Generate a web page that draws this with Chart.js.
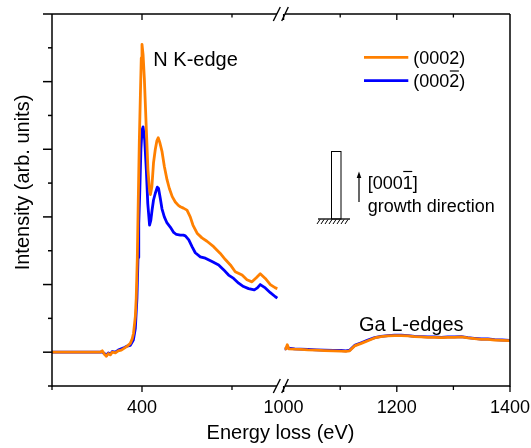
<!DOCTYPE html>
<html><head><meta charset="utf-8">
<script src="https://cdn.jsdelivr.net/npm/chart.js@4.4.0/dist/chart.umd.min.js"></script>
<style>html,body{margin:0;padding:0;background:#fff}#wrap{width:531px;height:448px;position:relative}</style>
</head><body><div id="wrap"><canvas id="c" width="531" height="448"></canvas></div>
<script>
// ---- data (energy in eV, intensity in arb. units) ----
const energyLeft = [350, 376.8, 377.9, 379.1, 380.2, 381.3, 382.4, 383.5, 385.2, 386.8, 388.5, 390.2, 391.8, 393.5, 394.6, 395.3, 396.3, 396.8, 397.4, 397.9, 398.5, 399.1, 399.6, 400.0, 400.6, 401.3, 402.4, 403.3, 404.1, 404.7, 405.5, 406.4, 407.4, 408.3, 409.0, 409.9, 411.1, 412.4, 413.9, 415.2, 416.8, 418.5, 420.2, 421.3, 423, 425, 426.8, 428.3, 430.6, 433.3, 436.1, 439.8, 443.5, 446.3, 449.1, 451.8, 455.6, 458.3, 461.1, 463.5, 465.7, 468.5, 471.3, 474.1, 475.2];
const orange0002Left = [0, 0, 0.02, -0.03, -0.06, -0.02, -0.04, 0.0, -0.01, 0.02, 0.03, 0.06, 0.09, 0.13, 0.2, 0.28, 0.53, 0.8, 1.4, 2.2, 3.1, 3.8, 4.35, 4.55, 4.4, 4.05, 3.3, 2.7, 2.42, 2.33, 2.45, 2.8, 3.0, 3.13, 3.17, 3.1, 2.97, 2.75, 2.55, 2.42, 2.3, 2.22, 2.17, 2.15, 2.13, 2.1, 2.0, 1.88, 1.76, 1.69, 1.64, 1.56, 1.46, 1.37, 1.29, 1.19, 1.14, 1.07, 1.04, 1.1, 1.16, 1.09, 1.0, 0.95, 0.94];
const energyLeftBlue = [350, 376.8, 377.9, 379.1, 380.2, 381.3, 382.4, 383.5, 385.2, 386.8, 388.5, 390.2, 391.8, 393.5, 395.2, 396.3, 397.2, 397.8, 398.2, 398.8, 399.4, 400.0, 400.6, 401.5, 402.4, 403.2, 404.2, 404.9, 405.6, 406.4, 407.4, 408.5, 409.2, 410.2, 411.1, 412.4, 413.9, 415.7, 417.6, 419.1, 421.3, 423, 424.1, 426, 427.8, 429.6, 432.4, 435.2, 438.9, 442.6, 445.3, 448.1, 450.9, 453.7, 456.4, 459.2, 462.4, 464.1, 465.7, 468.5, 471.3, 474.1, 475.2];
const blue0002barLeft = [0, 0, 0.0, -0.02, -0.05, -0.01, -0.03, 0.01, 0.0, 0.03, 0.05, 0.07, 0.09, 0.1, 0.18, 0.35, 0.8, 1.4, 1.9, 2.4, 3.0, 3.28, 3.33, 3.14, 2.70, 2.2, 1.88, 1.95, 2.1, 2.25, 2.35, 2.44, 2.42, 2.27, 2.12, 2.0, 1.91, 1.85, 1.77, 1.74, 1.73, 1.73, 1.72, 1.66, 1.56, 1.47, 1.41, 1.39, 1.34, 1.29, 1.22, 1.14, 1.09, 1.02, 0.97, 0.94, 0.92, 0.95, 1.0, 0.95, 0.88, 0.82, 0.8];
const energyRight = [1001.8, 1004, 1006.5, 1009, 1019.4, 1030, 1042.9, 1058, 1072.4, 1088, 1101.9, 1110, 1116.6, 1125.4, 1137.3, 1148.9, 1160.8, 1172, 1184.3, 1196, 1208, 1220, 1231.4, 1243, 1255, 1267, 1278.6, 1290, 1302.1, 1314, 1325.6, 1337, 1349.3, 1361, 1372.8, 1386, 1399.3];
const orange0002Right = [0.044, 0.05, 0.11, 0.05, 0.044, 0.04, 0.034, 0.03, 0.024, 0.02, 0.015, 0.012, 0.02, 0.093, 0.13, 0.17, 0.21, 0.23, 0.24, 0.245, 0.245, 0.24, 0.23, 0.225, 0.22, 0.22, 0.215, 0.22, 0.22, 0.225, 0.21, 0.2, 0.19, 0.19, 0.18, 0.175, 0.17];
const blue0002barRight = [0.05, 0.05, 0.08, 0.06, 0.05, 0.045, 0.04, 0.035, 0.03, 0.025, 0.025, 0.02, 0.03, 0.1, 0.14, 0.18, 0.215, 0.235, 0.245, 0.25, 0.25, 0.245, 0.235, 0.23, 0.225, 0.225, 0.22, 0.225, 0.225, 0.23, 0.215, 0.205, 0.195, 0.195, 0.185, 0.18, 0.175];

const seriesNames = ['(0002)', '(0002)'];     // second one gets an overbar on the last digit
const xMajorLeft = [400];
const xMinorLeft = [350, 450];
const xMajorRight = [1000, 1200, 1400];
const xMinorRight = [1100, 1300];
const xTickLabels = ['400', '1000', '1200', '1400'];
const yMajor = [0, 1, 2, 3, 4, 5];
const yMinor = [-0.5, 0.5, 1.5, 2.5, 3.5, 4.5];

const ORANGE = '#ff8000';
const BLUE = '#0000ff';
const FONT = '"Liberation Sans", Arial, sans-serif';

function pts(xs, ys) { return xs.map((x, i) => ({x: x, y: ys[i]})); }

const deco = {
  id: 'deco',
  afterDraw(chart) {
    const ctx = chart.ctx;
    const xL = chart.scales.xL, xR = chart.scales.xR, ys = chart.scales.y;
    const a = chart.chartArea;
    const L = a.left, R = a.right, T = a.top, B = a.bottom;
    const brk = xL.right;
    function line(x1, y1, x2, y2) { ctx.beginPath(); ctx.moveTo(x1, y1); ctx.lineTo(x2, y2); ctx.stroke(); }
    ctx.save();
    ctx.strokeStyle = '#000';
    ctx.lineWidth = 1.5;
    // frame
    line(L, T, L, B + 0.7);
    line(R, T, R, B + 0.7);
    line(L, T, brk - 3, T); line(brk + 5, T, R, T);
    line(L, B, brk - 3, B); line(brk + 5, B, R, B);
    // y ticks (outward)
    yMajor.forEach(v => { const p = ys.getPixelForValue(v); line(L - 9, p, L, p); });
    yMinor.forEach(v => { const p = ys.getPixelForValue(v); line(L - 4, p, L, p); });
    // x ticks
    ctx.lineWidth = 1.3;
    const majors = xMajorLeft.map(v => xL.getPixelForValue(v)).concat(xMajorRight.map(v => xR.getPixelForValue(v)));
    const minors = xMinorLeft.map(v => xL.getPixelForValue(v)).concat(xMinorRight.map(v => xR.getPixelForValue(v)));
    majors.forEach(p => { line(p, B, p, B + 6); if (p < R - 1) line(p, T, p, T + 6); });
    minors.forEach(p => { line(p, B, p, B + 4); if (p > L + 1) line(p, T, p, T + 3.5); });
    // axis breaks
    ctx.lineWidth = 1.4;
    [T, B].forEach(yy => {
      line(brk - 6.7, yy + 7, brk + 0.3, yy - 7);
      line(brk + 1.7, yy + 7, brk + 8.3, yy - 7);
    });
    // tick labels
    ctx.fillStyle = '#000';
    ctx.font = '18px ' + FONT;
    ctx.textAlign = 'center';
    ctx.textBaseline = 'alphabetic';
    const labPos = [xL.getPixelForValue(400), xR.getPixelForValue(1000), xR.getPixelForValue(1200), xR.getPixelForValue(1400)];
    xTickLabels.forEach((t, i) => ctx.fillText(t, labPos[i], 413.3));
    // axis titles
    ctx.font = '20px ' + FONT;
    ctx.fillText('Energy loss (eV)', 280.5, 438.5);
    ctx.save();
    ctx.translate(23.5, 182.5);
    ctx.rotate(-Math.PI / 2);
    ctx.textBaseline = 'middle';
    ctx.fillText('Intensity (arb. units)', 0, 0);
    ctx.restore();
    // annotations
    ctx.textAlign = 'left';
    ctx.fillText('N K-edge', 153.3, 65.7);
    ctx.fillText('Ga L-edges', 359, 330.7);
    // legend
    ctx.lineWidth = 2.8;
    ctx.strokeStyle = ORANGE; line(364, 57.3, 408.3, 57.3);
    ctx.strokeStyle = BLUE; line(364, 80.7, 408.3, 80.7);
    ctx.font = '18px ' + FONT;
    ctx.fillText(seriesNames[0], 413.3, 63.5);
    ctx.fillText(seriesNames[1], 413.3, 87);
    ctx.strokeStyle = '#000';
    ctx.lineWidth = 1.2;
    {
      const w0 = ctx.measureText('(000').width, w1 = ctx.measureText('2').width;
      line(413.3 + w0 + 0.5, 71, 413.3 + w0 + w1 - 0.5, 71);
    }
    // growth diagram
    ctx.lineWidth = 1;
    ctx.strokeRect(331.5, 151.5, 9.5, 67.5);
    ctx.lineWidth = 1.3;
    line(318, 219, 350, 219);
    ctx.lineWidth = 1;
    for (let hx = 320; hx <= 350; hx += 4) line(hx - 3, 224, hx, 219.5);
    // arrow
    ctx.lineWidth = 1.2;
    line(359, 202, 359, 177);
    ctx.beginPath(); ctx.moveTo(359, 171.5); ctx.lineTo(356.7, 178); ctx.lineTo(361.3, 178); ctx.closePath(); ctx.fillStyle = '#000'; ctx.fill();
    ctx.fillText('[0001]', 367.7, 189.3);
    {
      const w0 = ctx.measureText('[000').width, w1 = ctx.measureText('1').width;
      line(367.7 + w0 + 0.5, 171.5, 367.7 + w0 + w1 - 0.5, 171.5);
    }
    ctx.fillText('growth direction', 367.7, 211.5);
    ctx.restore();
  }
};

const lineDs = (label, data, color, xAxisID) => ({
  label: label, data: data, xAxisID: xAxisID, yAxisID: 'y',
  borderColor: color, backgroundColor: color, borderWidth: 2.8,
  pointRadius: 0, tension: 0, fill: false, borderJoinStyle: 'round'
});

new Chart(document.getElementById('c'), {
  type: 'line',
  data: {
    datasets: [
      lineDs(seriesNames[0], pts(energyLeft, orange0002Left), ORANGE, 'xL'),
      lineDs(seriesNames[0], pts(energyRight, orange0002Right), ORANGE, 'xR'),
      lineDs(seriesNames[1], pts(energyLeftBlue, blue0002barLeft), BLUE, 'xL'),
      lineDs(seriesNames[1], pts(energyRight, blue0002barRight), BLUE, 'xR')
    ]
  },
  options: {
    responsive: false,
    devicePixelRatio: 1,
    animation: false,
    events: [],
    parsing: true,
    layout: { padding: { left: 52, right: 21, top: 14, bottom: 62 } },
    plugins: { legend: { display: false }, tooltip: { enabled: false }, title: { display: false } },
    scales: {
      xL: { type: 'linear', position: 'bottom', stack: 'xs', stackWeight: 228, min: 350, max: 476.67, display: false },
      xR: { type: 'linear', position: 'bottom', stack: 'xs', stackWeight: 230, min: 993.64, max: 1400, display: false },
      y: { type: 'linear', position: 'left', min: -0.5, max: 5, display: false }
    }
  },
  plugins: [deco]
});
</script>
</body></html>
